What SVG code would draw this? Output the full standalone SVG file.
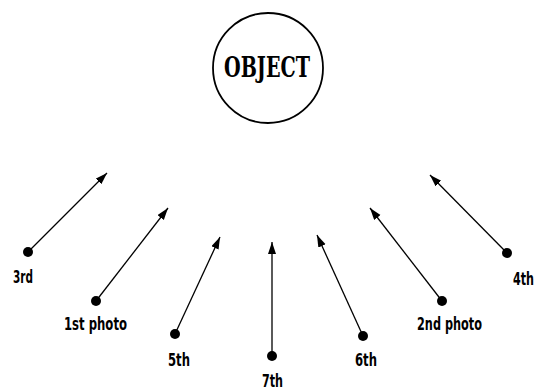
<svg xmlns="http://www.w3.org/2000/svg" width="543" height="390" viewBox="0 0 543 390">
<style>
.lbl{font-family:"DejaVu Sans Condensed","DejaVu Sans",sans-serif;font-size:18px;font-weight:bold;fill:#000}
.obj{font-family:"DejaVu Serif Condensed","DejaVu Serif",serif;font-size:28px;font-weight:bold;fill:#000}
.ln{stroke:#000;stroke-width:1.3;fill:none;marker-end:url(#ah)}
.dot{fill:#000}
</style>
<defs>
<marker id="ah" markerUnits="userSpaceOnUse" markerWidth="14" markerHeight="10" refX="12" refY="4" orient="auto">
<path d="M0,0 L12,4 L0,8 Z" fill="#000"/>
</marker>
</defs>
<rect width="543" height="390" fill="#fff"/>
<g id="object">
<circle cx="268" cy="68" r="55" fill="none" stroke="#000" stroke-width="1.8"/>
<text class="obj" x="267" y="77" text-anchor="middle" textLength="86" lengthAdjust="spacingAndGlyphs">OBJECT</text>
</g>
<g id="connectors">
<line class="ln" x1="28" y1="252" x2="107" y2="173"/>
<line class="ln" x1="96" y1="301" x2="168" y2="208"/>
<line class="ln" x1="175" y1="334" x2="220" y2="237"/>
<line class="ln" x1="272" y1="356" x2="272" y2="242"/>
<line class="ln" x1="363" y1="336" x2="317" y2="235"/>
<line class="ln" x1="442" y1="301" x2="370" y2="208"/>
<line class="ln" x1="507" y1="253" x2="430" y2="175"/>
</g>
<g id="n3rd"><circle class="dot" cx="28" cy="252" r="5"/><text class="lbl" x="23" y="283" text-anchor="middle" textLength="20" lengthAdjust="spacingAndGlyphs">3rd</text></g>
<g id="n1st"><circle class="dot" cx="96" cy="301" r="5"/><text class="lbl" x="95.5" y="330" text-anchor="middle" textLength="63" lengthAdjust="spacingAndGlyphs">1st photo</text></g>
<g id="n5th"><circle class="dot" cx="175" cy="334" r="5"/><text class="lbl" x="179" y="366" text-anchor="middle" textLength="22" lengthAdjust="spacingAndGlyphs">5th</text></g>
<g id="n7th"><circle class="dot" cx="272" cy="356" r="5"/><text class="lbl" x="272.5" y="387" text-anchor="middle" textLength="21" lengthAdjust="spacingAndGlyphs">7th</text></g>
<g id="n6th"><circle class="dot" cx="363" cy="336" r="5"/><text class="lbl" x="366" y="366" text-anchor="middle" textLength="22" lengthAdjust="spacingAndGlyphs">6th</text></g>
<g id="n2nd"><circle class="dot" cx="442" cy="301" r="5"/><text class="lbl" x="449.5" y="330" text-anchor="middle" textLength="65" lengthAdjust="spacingAndGlyphs">2nd photo</text></g>
<g id="n4th"><circle class="dot" cx="507" cy="253" r="5"/><text class="lbl" x="523.5" y="285" text-anchor="middle" textLength="21" lengthAdjust="spacingAndGlyphs">4th</text></g>
</svg>
